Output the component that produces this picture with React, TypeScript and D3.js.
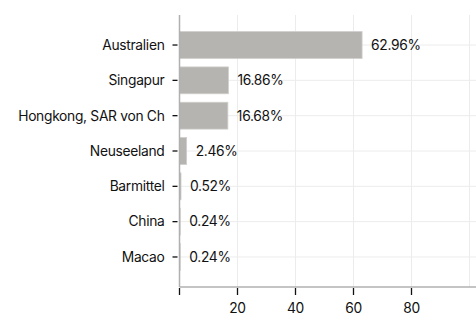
import React from "react";
import * as d3 from "d3";

const categories = ["Australien", "Singapur", "Hongkong, SAR von Ch", "Neuseeland", "Barmittel", "China", "Macao"];
const values = [62.96, 16.86, 16.68, 2.46, 0.52, 0.24, 0.24];
const xTicks = [0, 20, 40, 60, 80, 100];
const xTickLabels = ["", "20", "40", "60", "80", ""];

const W = 476, H = 316;
const left = 179.5, right = 476, top = 15, bottom = 287;

export default function App() {
  const x = d3.scaleLinear().domain([0, 100]).range([left, left + 290]);
  const y = d3.scaleBand<string>().domain(categories).range([top, bottom]).paddingInner(0.24).paddingOuter(0.47);
  const font = "Inter, 'Noto Sans', sans-serif";
  const fs = 13.8;
  const ls = -0.3;
  return (
    <svg width={W} height={H} style={{ position: "absolute", left: 0, top: 0, background: "#fff" }} fontFamily={font}>
      {xTicks.map((t, i) => (
        <line key={"gv" + i} x1={x(t)} x2={x(t)} y1={top} y2={bottom} stroke="#ececec" strokeWidth={1} />
      ))}
      {categories.map((c) => (
        <line key={"gh" + c} x1={left} x2={right} y1={y(c)! + y.bandwidth() / 2} y2={y(c)! + y.bandwidth() / 2} stroke="#ececec" strokeWidth={1} />
      ))}
      {categories.map((c, i) => (
        <rect key={"b" + c} x={x(0)} y={y(c)!} width={x(values[i]) - x(0)} height={y.bandwidth()} fill="#b5b4b0" stroke="#cfcecb" strokeWidth={0.8} />
      ))}
      {categories.map((c, i) => (
        <text key={"v" + c} x={x(values[i]) + 9} y={y(c)! + y.bandwidth() / 2} dy="0.35em" fontSize={fs} letterSpacing={ls} fill="#111">
          {values[i].toFixed(2) + "%"}
        </text>
      ))}
      <line x1={left} x2={left} y1={top} y2={bottom} stroke="#b0b0b0" strokeWidth={1.5} />
      <line x1={left} x2={right} y1={bottom} y2={bottom} stroke="#b0b0b0" strokeWidth={1.5} />
      {categories.map((c) => (
        <g key={"yt" + c}>
          <line x1={left - 7} x2={left - 2} y1={y(c)! + y.bandwidth() / 2} y2={y(c)! + y.bandwidth() / 2} stroke="#111" strokeWidth={1.3} />
          <text x={left - 15} y={y(c)! + y.bandwidth() / 2} dy="0.35em" textAnchor="end" fontSize={fs} letterSpacing={ls} fill="#111">{c}</text>
        </g>
      ))}
      {xTicks.map((t, i) => (
        <g key={"xt" + i}>
          {t <= 80 && <line x1={x(t)} x2={x(t)} y1={bottom + 1} y2={bottom + 8} stroke="#111" strokeWidth={1.3} />}
          <text x={x(t)} y={bottom + 21} dy="0.35em" textAnchor="middle" fontSize={fs} letterSpacing={ls} fill="#111">{xTickLabels[i]}</text>
        </g>
      ))}
    </svg>
  );
}
